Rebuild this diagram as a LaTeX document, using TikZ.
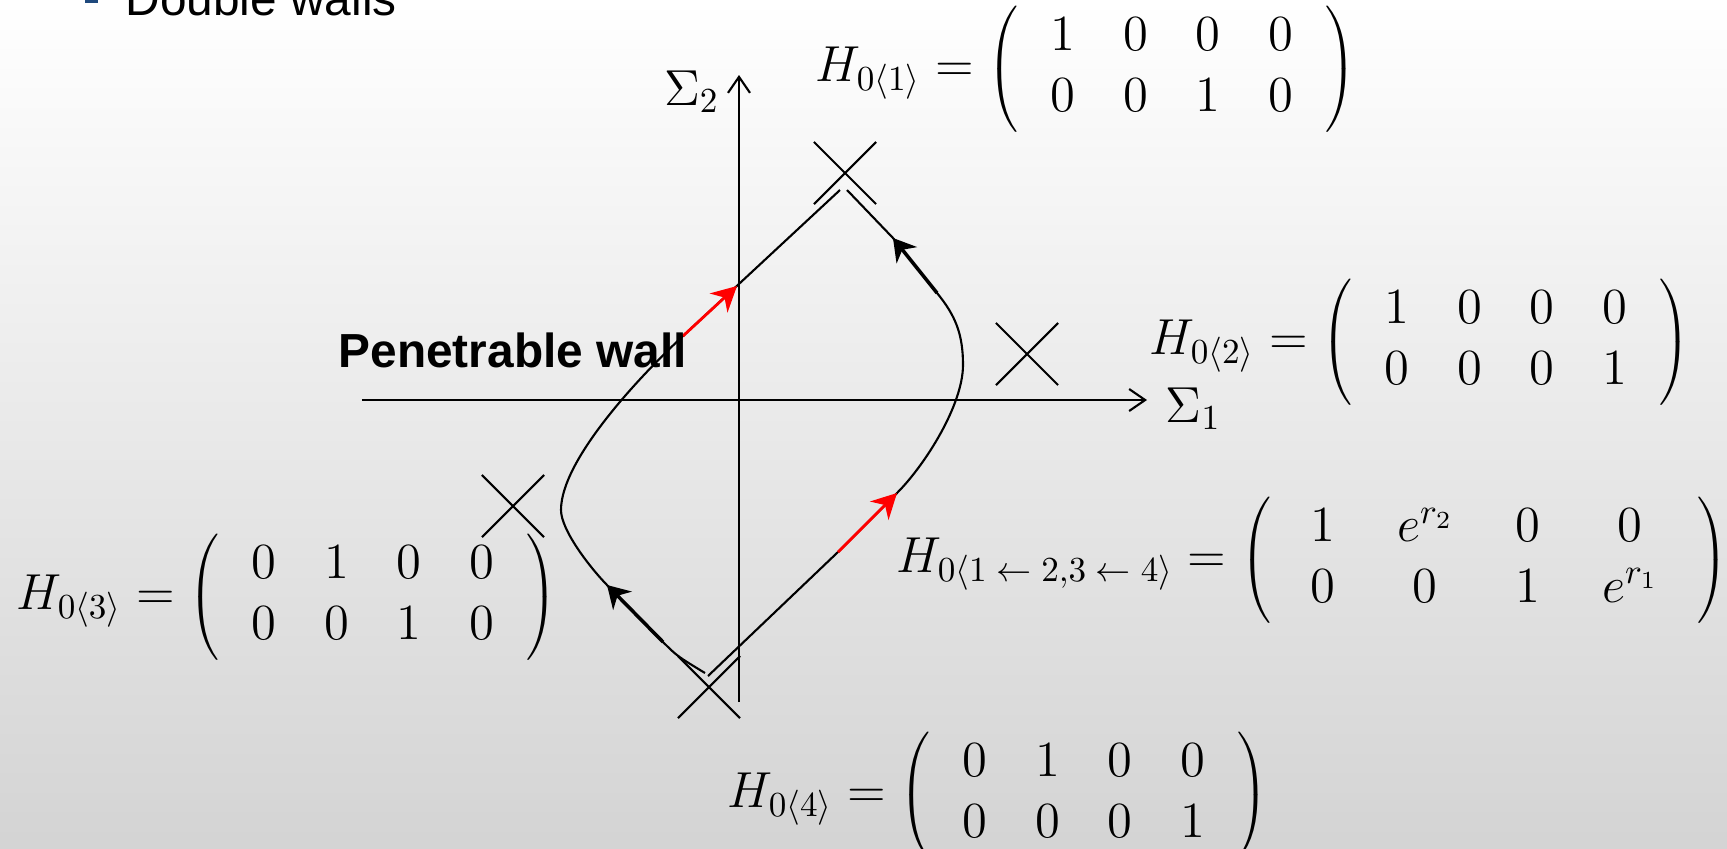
\documentclass[tikz,border=0pt]{standalone}
\usepackage{fontspec}
\usepackage{tikz}
\usetikzlibrary{arrows.meta,shapes.misc}
\newfontfamily\slidefont{Liberation Sans}
\definecolor{bulletblue}{RGB}{31,73,125}
\renewcommand{\arraystretch}{0.95}
\setlength{\arraycolsep}{6.8pt}
\newcommand{\hmat}[1]{$\left(\,\begin{array}{cccc}#1\end{array}\,\right)$}
\tikzset{
  wallline/.style={line width=0.6pt},
  axisline/.style={line width=0.6pt,-{Straight Barb[length=1.6mm,width=2.2mm]}},
  crossmk/.style={draw,cross out,minimum size=6mm,inner sep=0pt,line width=0.6pt},
  redarr/.style={red,line width=0.8pt,-{Stealth[length=2.5mm,width=2.6mm,inset=0.8mm]}},
  blkarr/.style={line width=1pt,-{Stealth[length=2.2mm,width=2.6mm,inset=0.7mm]}},
  eqn/.style={inner sep=0pt,anchor=west,font=\Large},
  axlbl/.style={inner sep=0pt,font=\Large},
}

\begin{document}
\begin{tikzpicture}
  \useasboundingbox (-7.39,-4.48) rectangle (9.88,4.00);
  \shade[top color=white,bottom color=black!17] (-7.39,-4.48) rectangle (9.88,4.00);
  \fill[bulletblue] (-6.54,3.97) rectangle (-6.41,4.10);
  \node[font=\slidefont\fontsize{13.6}{16}\selectfont,inner sep=0pt,anchor=base west] (title) at (-6.14,3.85) {Double walls};

  \coordinate (ax1) at (-3.77,0);
  \coordinate (ax2) at (4.08,0);
  \coordinate (ay1) at (0,-3.02);
  \coordinate (ay2) at (0,3.25);
  \draw[axisline] (ax1) -- (ax2);
  \draw[axisline] (ay1) -- (ay2);
  \node[axlbl,anchor=base west] (s1) at (4.26,-0.22) {$\Sigma_1$};
  \node[axlbl,anchor=base east] (s2) at (-0.19,2.95) {$\Sigma_2$};

  \node[crossmk] (xtop) at (1.06,2.27) {};
  \node[crossmk] (xright) at (2.88,0.46) {};
  \node[crossmk] (xleft) at (-2.26,-1.06) {};
  \node[crossmk] (xbot) at (-0.30,-2.87) {};

  \coordinate (wtl) at (1.01,2.10);
  \coordinate (wtr) at (1.08,2.10);
  \coordinate (wbl) at (-0.34,-2.73);
  \coordinate (wbr) at (-0.31,-2.76);
  \coordinate (r1a) at (-0.56,0.64);
  \coordinate (r1b) at (-0.02,1.14);
  \coordinate (r2a) at (0.99,-1.52);
  \coordinate (r2b) at (1.58,-0.93);
  \coordinate (k1a) at (-0.76,-2.42);
  \coordinate (k1b) at (-1.32,-1.85);
  \coordinate (k2a) at (1.98,1.07);
  \coordinate (k2b) at (1.54,1.62);

  \draw[wallline] (wtl) -- (r1a) .. controls (-1.00,0.23) and (-1.78,-0.60) .. (-1.78,-1.10)
    .. controls (-1.78,-1.30) and (-1.495,-1.67) .. (k1b) -- (k1a) .. controls (-0.62,-2.56) .. (wbl);
  \draw[wallline] (wbr) -- (r2a) -- (r2b) .. controls (1.86,-0.65) and (2.24,-0.05) .. (2.24,0.35)
    .. controls (2.24,0.65) and (2.17,0.84) .. (k2a) -- (k2b) -- (wtr);

  \draw[redarr] (r1a) -- (r1b);
  \draw[redarr] (r2a) -- (r2b);
  \draw[blkarr] (k1a) -- (k1b);
  \draw[blkarr] (k2a) -- (k2b);

  \node[font=\slidefont\bfseries\fontsize{13.6}{16}\selectfont,inner sep=0pt,anchor=base west] (pw) at (-4.01,0.33) {Penetrable wall};

  \node[eqn] (h1) at (0.76,3.31) {$H_{0\langle 1\rangle}=\;$\hmat{1&0&0&0\\0&0&1&0}};
  \node[eqn] (h2) at (4.10,0.58) {$H_{0\langle 2\rangle}=\;$\hmat{1&0&0&0\\0&0&0&1}};
  \node[eqn] (h12) at (1.57,-1.60) {$H_{0\langle 1\;\leftarrow\;2,3\;\leftarrow\;4\rangle}=\;$\setlength{\arraycolsep}{8.8pt}\hmat{1&e^{r_2}&0&0\\0&0&1&e^{r_1}}};
  \node[eqn] (h3) at (-7.23,-1.97) {$H_{0\langle 3\rangle}=\;$\hmat{0&1&0&0\\0&0&1&0}};
  \node[eqn] (h4) at (-0.12,-3.95) {$H_{0\langle 4\rangle}=\;$\hmat{0&1&0&0\\0&0&0&1}};
\end{tikzpicture}
\end{document}
